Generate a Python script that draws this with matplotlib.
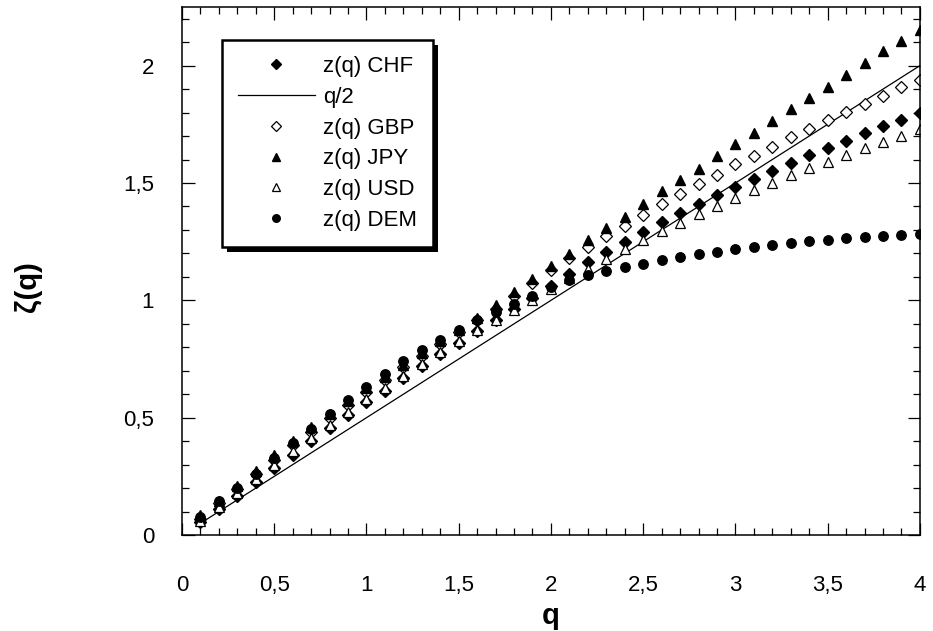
import numpy as np
import matplotlib.pyplot as plt
from matplotlib.patches import Rectangle
from matplotlib.ticker import MultipleLocator, FuncFormatter
from matplotlib.transforms import IdentityTransform

plt.rcParams['font.family'] = ['Liberation Sans', 'DejaVu Sans']

q = np.round(np.arange(1, 41) * 0.1, 1)

z_chf = [0.055, 0.110, 0.168, 0.228, 0.287, 0.343, 0.400, 0.458, 0.512, 0.565,
         0.615, 0.668, 0.720, 0.770, 0.820, 0.868, 0.915, 0.962, 1.012, 1.061,
         1.111, 1.163, 1.206, 1.248, 1.291, 1.333, 1.372, 1.411, 1.447, 1.485,
         1.515, 1.550, 1.586, 1.618, 1.651, 1.681, 1.712, 1.742, 1.770, 1.799]
z_gbp = [0.070, 0.135, 0.197, 0.260, 0.322, 0.382, 0.440, 0.497, 0.553, 0.608,
         0.662, 0.715, 0.765, 0.815, 0.865, 0.915, 0.965, 1.020, 1.074, 1.131,
         1.180, 1.227, 1.274, 1.318, 1.365, 1.411, 1.454, 1.494, 1.536, 1.579,
         1.616, 1.655, 1.695, 1.731, 1.769, 1.801, 1.837, 1.872, 1.908, 1.940]
z_jpy = [0.085, 0.145, 0.210, 0.275, 0.340, 0.400, 0.460, 0.515, 0.570, 0.625,
         0.675, 0.725, 0.775, 0.825, 0.875, 0.925, 0.979, 1.037, 1.090, 1.146,
         1.199, 1.255, 1.308, 1.357, 1.409, 1.465, 1.511, 1.560, 1.614, 1.664,
         1.714, 1.763, 1.816, 1.862, 1.911, 1.962, 2.010, 2.061, 2.106, 2.152]
z_usd = [0.060, 0.120, 0.180, 0.240, 0.300, 0.360, 0.415, 0.470, 0.525, 0.578,
         0.628, 0.678, 0.728, 0.778, 0.827, 0.872, 0.915, 0.957, 1.000, 1.050,
         1.095, 1.135, 1.177, 1.217, 1.255, 1.294, 1.329, 1.366, 1.400, 1.435,
         1.471, 1.502, 1.532, 1.563, 1.591, 1.621, 1.648, 1.674, 1.702, 1.728]
z_dem = [0.075, 0.145, 0.200, 0.262, 0.330, 0.393, 0.454, 0.515, 0.574, 0.631,
         0.685, 0.740, 0.787, 0.833, 0.875, 0.915, 0.952, 0.986, 1.017, 1.055,
         1.085, 1.109, 1.125, 1.142, 1.156, 1.170, 1.184, 1.197, 1.208, 1.218,
         1.227, 1.237, 1.245, 1.252, 1.259, 1.265, 1.270, 1.274, 1.278, 1.281]

x_ticks = [0, 0.5, 1, 1.5, 2, 2.5, 3, 3.5, 4]
y_ticks = [0, 0.5, 1, 1.5, 2]

fig = plt.figure(figsize=(9.33, 6.31), dpi=100)
ax = fig.add_axes([0.195, 0.152, 0.791, 0.837])

ax.plot(q, z_chf, 'D', color='black', ms=6, ls='none', label='z(q) CHF')
ax.plot(q, q / 2, '-', color='black', lw=0.9, label='q/2')
ax.plot(q, z_gbp, 'D', mfc='white', mec='black', mew=0.9, ms=6, ls='none', label='z(q) GBP')
ax.plot(q, z_jpy, '^', color='black', ms=7, ls='none', label='z(q) JPY')
ax.plot(q, z_usd, '^', mfc='white', mec='black', mew=0.9, ms=7, ls='none', label='z(q) USD')
ax.plot(q, z_dem, 'o', color='black', ms=6.8, ls='none', label='z(q) DEM')

ax.set_xlim(0, 4)
ax.set_ylim(0, 2.25)
ax.set_xticks(x_ticks)
ax.set_yticks(y_ticks)
ax.xaxis.set_minor_locator(MultipleLocator(0.1))
ax.yaxis.set_minor_locator(MultipleLocator(0.1))

comma = FuncFormatter(lambda v, pos: ('%g' % v).replace('.', ','))
ax.xaxis.set_major_formatter(comma)
ax.yaxis.set_major_formatter(comma)

ax.tick_params(which='both', direction='in', top=True, right=True, width=0.9, labelsize=16)
ax.tick_params(which='major', length=9)
ax.tick_params(which='minor', length=5)
ax.tick_params(axis='x', which='major', pad=29)
ax.tick_params(axis='y', which='major', pad=20)
for s in ax.spines.values():
    s.set_linewidth(1.1)

ax.set_xlabel('q', fontsize=21, fontweight='bold', labelpad=4)
ax.set_ylabel('ζ(q)', fontsize=21, fontweight='bold')
ax.yaxis.set_label_coords(-0.19, 0.47)

leg = ax.legend(loc='upper left', bbox_to_anchor=(0.054, 0.9375), borderaxespad=0,
                fontsize=16, handlelength=3.47, handletextpad=0.36, borderpad=0.72,
                labelspacing=0.44, numpoints=1, markerscale=0.8, frameon=True,
                fancybox=False, framealpha=1)
leg.get_frame().set_edgecolor('black')
leg.get_frame().set_facecolor('white')
leg.get_frame().set_linewidth(1.8)
leg.set_zorder(5)

# solid black drop shadow behind the legend box
fig.canvas.draw()
bb = leg.get_window_extent()
shadow = Rectangle((bb.x0 + 5, bb.y0 - 5), bb.width, bb.height,
                   transform=IdentityTransform(), facecolor='black', edgecolor='none', zorder=4.5)
ax.add_artist(shadow)

fig.savefig('out.png', dpi=100)
